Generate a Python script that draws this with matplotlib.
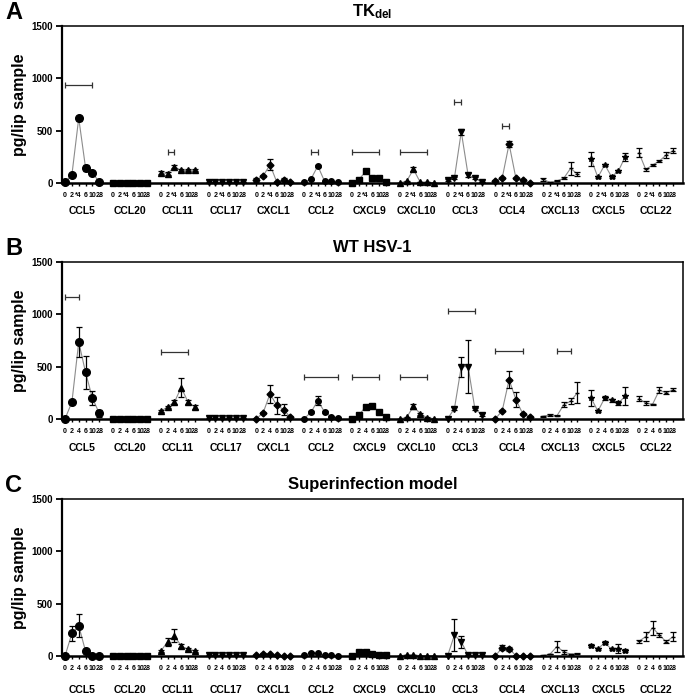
import matplotlib.pyplot as plt
import numpy as np

plt.rcParams['font.family'] = ['Liberation Sans', 'DejaVu Sans']
plt.rcParams['font.weight'] = 'bold'
plt.rcParams['mathtext.fontset'] = 'custom'
plt.rcParams['mathtext.bf'] = 'Liberation Sans:bold'
plt.rcParams['mathtext.rm'] = 'Liberation Sans:bold'

chemokines = ['CCL5', 'CCL20', 'CCL11', 'CCL17', 'CXCL1', 'CCL2', 'CXCL9',
              'CXCL10', 'CCL3', 'CCL4', 'CXCL13', 'CXCL5', 'CCL22']
days = ['0', '2', '4', '6', '10', '28']
days_tk = ['0', '2', '*4', '6', '10', '28']
markers = ['o', 's', '^', 'v', 'D', 'o', 's', '^', 'v', 'D', '_', '*', '_']
msizes = [5.5, 4, 4, 4, 3.5, 4, 4.5, 4, 4.5, 3.5, 3, 4, 3]

# TK del
tk_mean = [
    [5, 78, 620, 145, 100, 8],
    [4, 4, 4, 4, 4, 4],
    [100, 90, 155, 120, 120, 125],
    [5, 5, 5, 5, 5, 10],
    [30, 67, 175, 8, 30, 5],
    [10, 38, 163, 15, 15, 8],
    [3, 32, 110, 50, 48, 5],
    [2, 18, 130, 7, 7, 3],
    [30, 50, 490, 76, 45, 8],
    [20, 50, 373, 45, 30, 3],
    [35, 5, 20, 45, 140, 86],
    [230, 54, 175, 60, 115, 250],
    [290, 130, 172, 210, 268, 309],
]
tk_err = [
    [3, 5, 25, 30, 10, 3],
    [1, 1, 1, 1, 1, 1],
    [15, 15, 15, 10, 10, 10],
    [2, 2, 2, 2, 2, 3],
    [20, 5, 55, 3, 15, 2],
    [3, 5, 10, 3, 3, 2],
    [2, 5, 10, 5, 5, 2],
    [1, 5, 20, 2, 2, 1],
    [10, 10, 30, 15, 10, 3],
    [8, 8, 25, 5, 5, 1],
    [15, 3, 5, 8, 60, 15],
    [70, 10, 10, 12, 10, 40],
    [40, 15, 10, 8, 25, 25],
]

# WT HSV-1
wt_mean = [
    [3, 160, 735, 445, 200, 55],
    [3, 3, 3, 3, 3, 3],
    [73, 115, 160, 300, 162, 115],
    [5, 5, 5, 10, 5, 10],
    [2, 60, 240, 130, 90, 15],
    [3, 65, 175, 65, 20, 12],
    [2, 35, 118, 120, 70, 18],
    [2, 15, 120, 50, 12, 3],
    [2, 100, 500, 500, 95, 40],
    [2, 80, 375, 185, 50, 20],
    [25, 40, 30, 135, 170, 250],
    [200, 75, 200, 180, 150, 220],
    [195, 153, 140, 275, 250, 280],
]
wt_err = [
    [2, 10, 140, 155, 70, 35],
    [1, 1, 1, 1, 1, 1],
    [10, 10, 20, 90, 20, 15],
    [2, 2, 2, 3, 2, 3],
    [1, 10, 85, 80, 55, 10],
    [1, 8, 40, 8, 5, 5],
    [1, 5, 10, 15, 8, 5],
    [1, 5, 25, 10, 5, 1],
    [1, 15, 95, 250, 10, 15],
    [1, 5, 80, 70, 8, 10],
    [5, 8, 5, 25, 30, 100],
    [80, 10, 20, 15, 20, 85],
    [20, 15, 5, 30, 15, 15],
]

# Superinfection model
sup_mean = [
    [2, 215, 290, 45, 3, 3],
    [3, 3, 3, 3, 3, 3],
    [45, 135, 195, 95, 65, 50],
    [5, 5, 10, 5, 5, 5],
    [5, 20, 15, 5, 3, 3],
    [5, 30, 25, 5, 5, 3],
    [3, 38, 35, 15, 8, 8],
    [2, 10, 10, 3, 3, 3],
    [2, 200, 135, 8, 5, 5],
    [2, 80, 70, 3, 3, 2],
    [5, 18, 90, 40, 18, 20],
    [100, 70, 125, 65, 70, 50],
    [140, 185, 270, 200, 135, 185],
]
sup_err = [
    [1, 75, 110, 8, 1, 1],
    [1, 1, 1, 1, 1, 1],
    [8, 35, 65, 15, 10, 10],
    [2, 2, 3, 2, 2, 2],
    [2, 5, 5, 2, 1, 1],
    [2, 5, 5, 2, 2, 1],
    [1, 5, 5, 3, 2, 2],
    [1, 3, 3, 1, 1, 1],
    [1, 150, 60, 3, 2, 2],
    [1, 25, 20, 1, 1, 1],
    [2, 3, 55, 20, 5, 5],
    [15, 10, 15, 10, 45, 12],
    [15, 40, 65, 15, 15, 45],
]

# significance brackets: (chemokine index, first day index, last day index, height)
tk_brackets = [(0, 0, 4, 936), (2, 1, 2, 296), (5, 1, 2, 296), (6, 0, 4, 296),
               (7, 0, 4, 296), (8, 1, 2, 774), (9, 1, 2, 545)]
wt_brackets = [(0, 0, 2, 1166), (2, 0, 4, 640), (5, 0, 5, 401), (6, 0, 4, 401),
               (7, 0, 4, 401), (8, 0, 4, 1032), (9, 0, 4, 650), (10, 2, 4, 650)]
sup_brackets = []

panels = [
    ('A', r'$\mathbf{TK_{del}}$', tk_mean, tk_err, tk_brackets, days_tk, 0.7363, 0.178),
    ('B', 'WT HSV-1', wt_mean, wt_err, wt_brackets, days, 0.3963, 0.185),
    ('C', 'Superinfection model', sup_mean, sup_err, sup_brackets, days, 0.0548, 0.215),
]

fig = plt.figure(figsize=(6.85, 6.94), dpi=100)
for letter, title, means, errs, brackets, day_labels, bottom, glab in panels:
    ax = fig.add_axes([0.0905, bottom, 0.9065, 0.2262])
    ticks = []
    ticklabels = []
    for g in range(len(chemokines)):
        x = g * 7 + np.arange(6)
        ticks.extend(x)
        ticklabels.extend(day_labels)
        ax.plot(x, means[g], color='#8c8c8c', lw=0.8, zorder=2, clip_on=False)
        ax.errorbar(x, means[g], yerr=errs[g], fmt=markers[g], ms=msizes[g],
                    color='black', mec='black', mfc='black', ecolor='black',
                    elinewidth=0.9, capsize=2.2, capthick=0.9, zorder=3, clip_on=False)
        ax.text(g * 7 + 2.5, -glab, chemokines[g], transform=ax.get_xaxis_transform(),
                ha='center', va='center', fontsize=7.5, fontweight='bold')
    for g, d0, d1, h in brackets:
        x0 = g * 7 + d0
        x1 = g * 7 + d1
        ax.errorbar((x0 + x1) / 2, h, xerr=(x1 - x0) / 2, fmt='none', ecolor='#333333',
                    elinewidth=0.9, capsize=2.5, capthick=0.9)
    ax.set_xlim(-0.45, 90.45)
    ax.set_ylim(0, 1500)
    ax.set_yticks([0, 500, 1000, 1500])
    ax.set_xticks(ticks)
    ax.set_xticklabels(ticklabels, fontsize=5, fontweight='bold')
    ax.tick_params(axis='x', length=2.5, width=1, pad=4)
    ax.tick_params(axis='y', labelsize=7, length=4, width=1.3, pad=2.5)
    for lab in ax.get_yticklabels():
        lab.set_fontweight('bold')
    ax.spines['left'].set_linewidth(1.6)
    ax.spines['bottom'].set_linewidth(1.8)
    ax.spines['top'].set_linewidth(1.1)
    ax.spines['right'].set_linewidth(1.1)
    ax.set_ylabel('pg/lip sample', fontsize=11.5, fontweight='bold')
    ax.yaxis.set_label_coords(-0.057, 0.5)
    ax.set_title(title, fontsize=12, fontweight='bold', pad=7)
    fig.text(0.008, bottom + 0.2262 + 0.019, letter, fontsize=17, fontweight='bold',
             ha='left', va='center')

fig.savefig('out.png', dpi=100)
